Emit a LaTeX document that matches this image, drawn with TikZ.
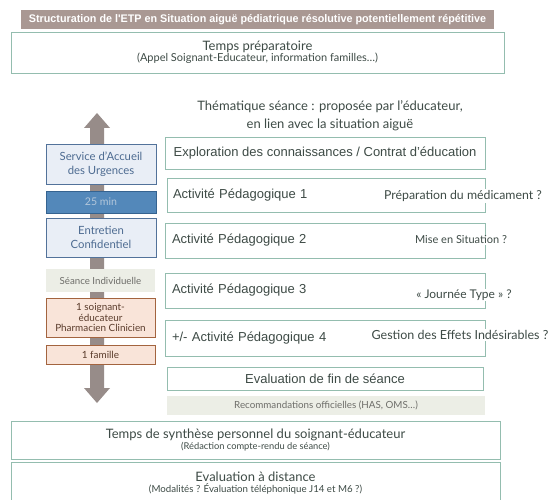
\documentclass[tikz,border=0pt]{standalone}
\usepackage{fontspec}
\setmainfont{Lato}
\newfontfamily\arialfont{Liberation Sans}
\begin{document}
\definecolor{titlebar}{HTML}{A99893}
\definecolor{tealline}{HTML}{94BDAF}
\definecolor{arrowgray}{HTML}{978C89}
\definecolor{bluefill}{HTML}{E9EEF6}
\definecolor{blueline}{HTML}{52729A}
\definecolor{bluetext}{HTML}{4D6B91}
\definecolor{darkblue}{HTML}{5388BA}
\definecolor{darkblueline}{HTML}{356390}
\definecolor{paletext}{HTML}{B3C7DB}
\definecolor{greyfill}{HTML}{ECEEE6}
\definecolor{greytext}{HTML}{6E6E6A}
\definecolor{peachfill}{HTML}{F9E4D9}
\definecolor{brownline}{HTML}{A3643F}
\definecolor{browntext}{HTML}{5A3B2B}
\definecolor{maintext}{HTML}{3E4B46}
\begin{tikzpicture}[x=1pt,y=-1pt,
  wide/.style={draw=tealline,line width=0.9pt,fill=white,inner sep=0pt,outer sep=0pt,align=center,text=maintext},
  stepbox/.style={draw=tealline,line width=0.8pt,fill=white,inner sep=0pt,outer sep=0pt,text=maintext,font=\arialfont\fontsize{13}{15}\selectfont},
  sidebox/.style={draw=blueline,line width=0.8pt,fill=bluefill,inner sep=0pt,outer sep=0pt,align=center,text=bluetext,font=\fontsize{11.3}{14.5}\selectfont},
  peachbox/.style={draw=brownline,line width=0.8pt,fill=peachfill,inner sep=0pt,outer sep=0pt,align=center,text=browntext,font=\fontsize{9.9}{10.6}\selectfont},
  greybox/.style={fill=greyfill,inner sep=0pt,outer sep=0pt,align=center,text=greytext},
  note/.style={fill=white,inner sep=1pt,text=maintext}]
\useasboundingbox (0,0) rectangle (551,500);
\fill[white] (0,0) rectangle (551,500);

% title bar
\node[fill=titlebar,minimum width=473pt,minimum height=19pt,inner sep=0pt,text=white,
  font=\arialfont\bfseries\fontsize{11}{13}\selectfont] (title) at (257.5,19.5)
  {\scalebox{0.98}[1]{Structuration de l'ETP en Situation aiguë pédiatrique résolutive potentiellement répétitive}\hspace{6pt}};

% preparation
\node[wide,minimum width=493pt,minimum height=41pt] (prep) at (257.5,52.5)
  {{\fontsize{13}{16}\selectfont Temps préparatoire}\\[-1pt]{\fontsize{11}{13}\selectfont (Appel Soignant-Educateur, information familles…)}};

% theme of the session
\node[align=center,text=maintext,font=\fontsize{13}{18}\selectfont] (theme) at (330,116)
  {Thématique séance : proposée par l’éducateur,\\en lien avec la situation aiguë};

% time axis arrow
\fill[arrowgray] (97,113) -- (110,128) -- (104,128) -- (104,388) -- (110,388) -- (97,403)
  -- (84,388) -- (90,388) -- (90,128) -- (84,128) -- cycle;

% left column
\node[sidebox,minimum width=110pt,minimum height=40pt] (sau) at (101,164) {Service d’Accueil\\des Urgences};
\node[draw=darkblueline,line width=0.8pt,fill=darkblue,minimum width=110pt,minimum height=22pt,inner sep=0pt,
  text=paletext,font=\fontsize{10.6}{12}\selectfont] (dur) at (101,202) {25 min};
\node[sidebox,minimum width=110pt,minimum height=39pt] (entr) at (101,237.5) {Entretien\\Confidentiel};
\node[greybox,minimum width=109pt,minimum height=23pt,font=\fontsize{9.7}{11}\selectfont] (seance) at (100.5,280.5) {Séance Individuelle};
\node[peachbox,minimum width=109pt,minimum height=39pt] (soign) at (100.5,317.5)
  {1 soignant-\\éducateur\\Pharmacien Clinicien};
\node[peachbox,minimum width=109pt,minimum height=19pt] (fam) at (100.5,354.5) {1 famille};

% session steps
\node[stepbox,minimum width=320pt,minimum height=32pt] (explo) at (325,153)
  {Exploration des connaissances / Contrat d’éducation};
\node[stepbox,minimum width=318pt,minimum height=34pt,text width=306pt] (act1) at (326,195) {Activité Pédagogique 1};
\node[stepbox,minimum width=320pt,minimum height=35pt,text width=306pt] (act2) at (325,240.5) {Activité Pédagogique 2};
\node[stepbox,minimum width=320pt,minimum height=35pt,text width=306pt] (act3) at (325,290.5) {Activité Pédagogique 3};
\node[stepbox,minimum width=320pt,minimum height=36pt,text width=306pt] (act4) at (325,338) {+/- Activité Pédagogique 4};
\node[stepbox,minimum width=316pt,minimum height=23pt] (evalfin) at (325,378.5) {Evaluation de fin de séance};
\node[greybox,minimum width=318pt,minimum height=19pt,font=\fontsize{9.8}{11}\selectfont] (reco) at (326,405.5) {Recommandations officielles (HAS, OMS…)};

% questions attached to the activities
\node[note,font=\fontsize{12.3}{14}\selectfont] (q1) at (463,196) {Préparation du médicament ?};
\node[note,font=\fontsize{11}{13}\selectfont] (q2) at (461,240) {Mise en Situation ?};
\node[note,font=\fontsize{12}{14}\selectfont] (q3) at (464,295) {« Journée Type » ?};
\node[note,font=\fontsize{12.5}{14}\selectfont] (q4) at (460,335) {Gestion des Effets Indésirables ?};

% after the session
\node[wide,minimum width=489pt,minimum height=38pt] (synth) at (255.5,440)
  {{\fontsize{13}{16}\selectfont Temps de synthèse personnel du soignant-éducateur}\\[-1pt]{\fontsize{9.3}{11}\selectfont (Rédaction compte-rendu de séance)}};
\node[wide,minimum width=489pt,minimum height=42pt] (dist) at (255.5,483)
  {{\fontsize{13}{16}\selectfont Evaluation à distance}\\[-1pt]{\fontsize{9.7}{11}\selectfont (Modalités ? Évaluation téléphonique J14 et M6 ?)}};
\end{tikzpicture}
\end{document}
